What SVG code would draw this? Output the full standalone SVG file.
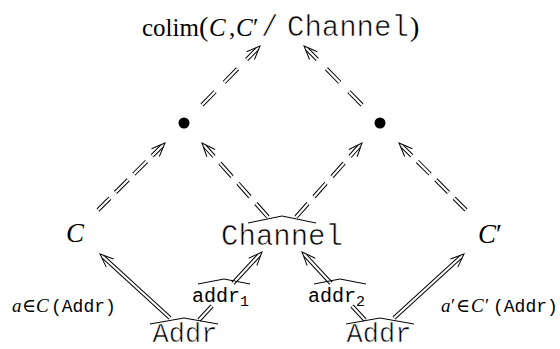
<svg xmlns="http://www.w3.org/2000/svg" width="560" height="349" viewBox="0 0 560 349">
<style>
  .serif{font-family:"Liberation Serif","DejaVu Serif",serif;}
  .it{font-style:italic;}
  .mono{font-family:"Liberation Mono","DejaVu Sans Mono",monospace;}
  .thin{stroke:#fff;stroke-width:0.6;}
  .dk{fill:none;stroke:#000;stroke-width:4.2;}
  .wt{fill:none;stroke:#fff;stroke-width:2.2;}
  .hat{fill:none;stroke:#000;stroke-width:1;}
  text{fill:#000;}
</style>
<defs>
  <marker id="hd" markerUnits="userSpaceOnUse" orient="auto-start-reverse" refX="0" refY="0" markerWidth="30" markerHeight="30" viewBox="-15 -15 30 30">
    <path d="M -9 -5.5 L 4.5 0 L -9 5.5" fill="none" stroke="#000" stroke-width="1"/>
  </marker>
</defs>
<rect width="560" height="349" fill="#fff"/>

<g id="connectors">
  <!-- dashed double arrows (drawn from head end) -->
  <g id="e-bl-title">
    <path class="dk" d="M256.85 49.2 L202 105" stroke-dasharray="19 13" stroke-dashoffset="4.5" marker-start="url(#hd)"/>
    <path class="wt" d="M256.85 49.2 L202 105" stroke-dasharray="19 13" stroke-dashoffset="4.5"/>
  </g>
  <g id="e-br-title">
    <path class="dk" d="M307.15 49.2 L362 105" stroke-dasharray="19 13" stroke-dashoffset="4.5" marker-start="url(#hd)"/>
    <path class="wt" d="M307.15 49.2 L362 105" stroke-dasharray="19 13" stroke-dashoffset="4.5"/>
  </g>
  <g id="e-C-bl">
    <path class="dk" d="M161.8 146.2 L98 210" stroke-dasharray="18 8" stroke-dashoffset="4.5" marker-start="url(#hd)"/>
    <path class="wt" d="M161.8 146.2 L98 210" stroke-dasharray="18 8" stroke-dashoffset="4.5"/>
  </g>
  <g id="e-Cp-br">
    <path class="dk" d="M402.2 146.2 L466 210" stroke-dasharray="18 8" stroke-dashoffset="4.5" marker-start="url(#hd)"/>
    <path class="wt" d="M402.2 146.2 L466 210" stroke-dasharray="18 8" stroke-dashoffset="4.5"/>
  </g>
  <g id="e-Ch-bl">
    <path class="dk" d="M205 146.4 L268 217" stroke-dasharray="18 9" stroke-dashoffset="4.5" marker-start="url(#hd)"/>
    <path class="wt" d="M205 146.4 L268 217" stroke-dasharray="18 9" stroke-dashoffset="4.5"/>
  </g>
  <g id="e-Ch-br">
    <path class="dk" d="M359 146.4 L296 217" stroke-dasharray="18 9" stroke-dashoffset="4.5" marker-start="url(#hd)"/>
    <path class="wt" d="M359 146.4 L296 217" stroke-dasharray="18 9" stroke-dashoffset="4.5"/>
  </g>

  <!-- solid double arrows -->
  <g id="e-a">
    <path class="dk" d="M170 318 L103.3 257" marker-end="url(#hd)"/>
    <path class="wt" d="M170 318 L103.3 257"/>
  </g>
  <g id="e-ap">
    <path class="dk" d="M394 318 L460.7 257" marker-end="url(#hd)"/>
    <path class="wt" d="M394 318 L460.7 257"/>
  </g>
  <g id="e-addr1">
    <path class="dk" d="M199 320 L212 306"/>
    <path class="wt" d="M199 320 L212 306"/>
    <path class="dk" d="M233 283.3 L258.9 255.3" marker-end="url(#hd)"/>
    <path class="wt" d="M233 283.3 L258.9 255.3"/>
    <polyline class="hat" points="198,284 224,279 250,284"/>
    <text class="mono" font-size="20" x="192" y="302">addr<tspan font-size="15" dy="4">1</tspan></text>
  </g>
  <g id="e-addr2">
    <path class="dk" d="M365 320 L352 306"/>
    <path class="wt" d="M365 320 L352 306"/>
    <path class="dk" d="M331 283.3 L305.1 255.3" marker-end="url(#hd)"/>
    <path class="wt" d="M331 283.3 L305.1 255.3"/>
    <polyline class="hat" points="314,284 340,279 366,284"/>
    <text class="mono" font-size="20" x="308" y="302">addr<tspan font-size="15" dy="4">2</tspan></text>
  </g>

  <!-- arrow labels -->
  <g id="label-a">
    <text class="serif" font-size="19" y="312"><tspan x="12" class="it">a</tspan><tspan x="22">∈</tspan><tspan x="36" class="it">C</tspan></text>
    <text class="mono" font-size="18" x="51" y="312">(Addr)</text>
  </g>
  <g id="label-ap">
    <text class="serif" font-size="19" y="312"><tspan x="441" class="it">a</tspan><tspan x="451">′</tspan><tspan x="456">∈</tspan><tspan x="471" class="it">C</tspan><tspan x="485">′</tspan></text>
    <text class="mono" font-size="18" x="493" y="312">(Addr)</text>
  </g>
</g>

<g id="node-colim">
  <text class="serif" font-size="25" y="36"><tspan x="142">colim</tspan><tspan x="209" class="it">C</tspan><tspan x="229">,</tspan><tspan x="236" class="it">C</tspan><tspan x="253">′</tspan></text>
  <text class="serif" font-size="28" y="36"><tspan x="199">(</tspan><tspan x="410">)</tspan></text>
  <text class="mono thin" font-size="29" y="36"><tspan x="261">/</tspan><tspan x="287">Channel</tspan></text>
</g>
<g id="node-bullet-l"><circle cx="184" cy="123" r="5.5" fill="#000"/></g>
<g id="node-bullet-r"><circle cx="380" cy="123" r="5.5" fill="#000"/></g>
<g id="node-C"><text class="serif it" font-size="27" x="66" y="242">C</text></g>
<g id="node-Cp"><text class="serif" font-size="27" y="243"><tspan x="478" class="it">C</tspan><tspan>′</tspan></text></g>
<g id="node-Channel">
  <polyline class="hat" points="248,223 282,216 316,223"/>
  <text class="mono thin" font-size="29" x="282" y="245" text-anchor="middle">Channel</text>
</g>
<g id="node-Addr-l">
  <polyline class="hat" points="150,324 184,318 218,324"/>
  <text class="mono thin" font-size="27" x="185" y="342" text-anchor="middle">Addr</text>
</g>
<g id="node-Addr-r">
  <polyline class="hat" points="346,324 380,318 414,324"/>
  <text class="mono thin" font-size="27" x="379" y="342" text-anchor="middle">Addr</text>
</g>
</svg>
